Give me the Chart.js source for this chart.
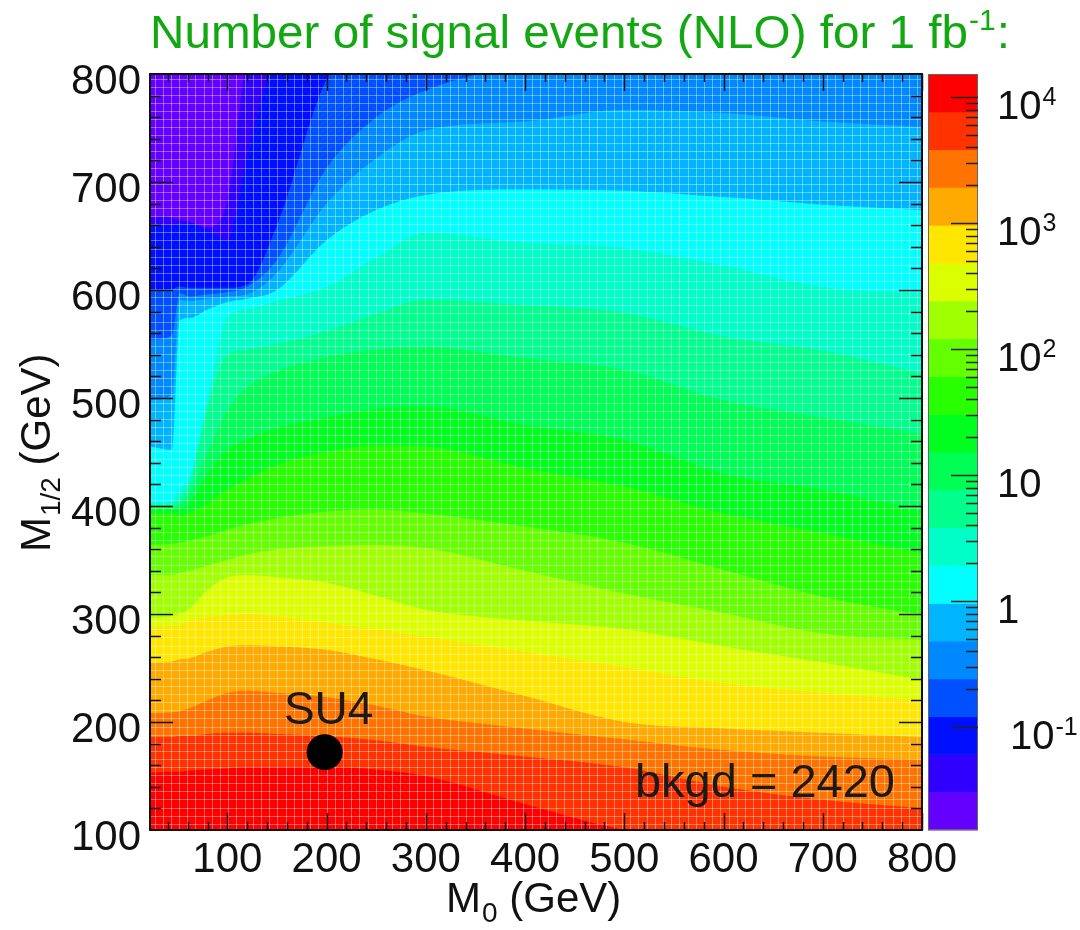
<!DOCTYPE html>
<html>
<head>
<meta charset="utf-8">
<script src="https://cdn.jsdelivr.net/npm/chart.js"></script>
<style>
  body { margin: 0; background: #fff; }
  canvas { display: block; }
</style>
</head>
<body>
<canvas id="myChart" width="1080" height="930"></canvas>
<script>
// M0 columns (GeV) where contour heights were read
const m0Nodes = [22, 44, 52, 62, 80, 100, 120, 150, 200, 250, 300, 400, 500, 600, 700, 800];

// contour levels, log10(number of events), bottom of colour bar to top
const zLevels = [-1.815, -1.515, -1.215, -0.915, -0.615, -0.315, -0.015, 0.285, 0.585, 0.885,
  1.185, 1.485, 1.785, 2.085, 2.385, 2.685, 2.985, 3.285, 3.585, 3.885, 4.185];

const bandColors = ['#6400ff', '#3000ff', '#0010ff', '#0050ff', '#0088ff', '#00b4ff', '#00ffff',
  '#00ffc8', '#00ff8c', '#00ff55', '#00ff1e', '#28ff00', '#64ff00', '#a0ff00', '#dcff00',
  '#ffe600', '#ffaa00', '#ff7300', '#ff3200', '#ff0000'];

// M1/2 (GeV) of each contour line at the m0Nodes, highest level first
const c3885 = [153, 154, 154, 155, 156, 157, 158, 158, 158, 156, 150, 124, 100, 88, 84, 80];
const c3585 = [186, 186, 187, 187, 189, 190, 190, 189, 187, 183, 177, 168, 158, 140, 128, 120];
const c3285 = [208, 209, 210, 213, 220, 227, 229, 227, 223, 215, 205, 194, 184, 174, 168, 165];
const c2985 = [255, 256, 258, 259, 265, 270, 271, 270, 267, 258, 248, 224, 200, 194, 190, 186];
const c2685 = [288, 289, 290, 294, 297, 299, 300, 298, 292, 286, 279, 265, 251, 236, 227, 220];
const c2385 = [296, 298, 300, 305, 322, 334, 336, 334, 329, 317, 304, 294, 286, 270, 255, 239];
const c2085 = [336, 336, 338, 340, 345, 350, 355, 360, 363, 364, 361, 340, 319, 301, 282, 276];
const c1785 = [364, 365, 366, 368, 372, 378, 383, 389, 395, 397, 393, 381, 366, 341, 316, 299];
const c1485 = [393, 393, 391, 394, 402, 415, 425, 438, 450, 456, 455, 435, 418, 393, 375, 356];
const c1185 = [397, 397, 397, 403, 430, 452, 462, 472, 482, 490, 492, 475, 461, 430, 415, 396];
const c0885 = [399, 399, 401, 412, 450, 489, 510, 525, 538, 545, 547, 537, 526, 498, 482, 467];
const c0585 = [401, 401, 406, 422, 490, 540, 545, 550, 562, 578, 591, 586, 579, 557, 544, 523];
const c0285 = [403, 404, 416, 426, 500, 575, 582, 590, 603, 630, 653, 644, 639, 623, 603, 597];
const cm0015 = [455, 452, 572, 574, 582, 589, 592, 600, 646, 674, 688, 693, 692, 686, 679, 674];
const cm0315 = [498, 503, 591, 590, 592, 594, 596, 616, 680, 722, 748, 756, 767, 764, 756, 751];
const cm0615 = [554, 558, 597, 594, 596, 598, 603, 628, 713, 760, 785, 808, 815, 820, 825, 830];
const cm0915 = [600, 601, 603, 602, 602, 602, 605, 660, 795, 840, 860, 870, 880, 890, 900, 910];
const cm1215 = [660, 660, 661, 662, 655, 646, 725, 820, 860, 880, 890, 900, 905, 910, 915, 920];
const cm1515 = [668, 667, 665, 663, 658, 683, 815, 850, 870, 890, 900, 910, 915, 920, 925, 930];

const contours = [c3885, c3585, c3285, c2985, c2685, c2385, c2085, c1785, c1485, c1185,
  c0885, c0585, c0285, cm0015, cm0315, cm0615, cm0915, cm1215, cm1515];

const xTicks = [100, 200, 300, 400, 500, 600, 700, 800];
const yTicks = [100, 200, 300, 400, 500, 600, 700, 800];
const zTicks = [0.1, 1, 10, 100, 1000, 10000];
const zTickLabels = [['10', '-1'], ['1', ''], ['10', ''], ['10', '2'], ['10', '3'], ['10', '4']];

const su4 = { m0: 198, m12: 172, name: 'SU4' };
const bkgdText = 'bkgd = 2420';
const titleMain = 'Number of signal events (NLO) for 1 fb';
const titleSup = '-1';

const FONT = '"Liberation Sans", Arial, sans-serif';

const datasets = contours.map((line, i) => ({
  data: m0Nodes.map((m, k) => ({ x: m, y: line[k] })),
  fill: 'start',
  backgroundColor: bandColors[19 - i],
  borderWidth: 0,
  borderColor: 'rgba(0,0,0,0)',
  pointRadius: 0,
  cubicInterpolationMode: 'monotone',
  order: 0
}));

datasets.push({
  data: [{ x: su4.m0, y: su4.m12 }],
  showLine: false,
  pointRadius: 18,
  pointBackgroundColor: '#000',
  pointBorderWidth: 0,
  order: -1
});

function drawSup(ctx, x, y, base, sup, size) {
  ctx.font = size + 'px ' + FONT;
  ctx.fillText(base, x, y);
  const w = ctx.measureText(base).width;
  if (sup) {
    ctx.font = Math.round(size * 0.62) + 'px ' + FONT;
    ctx.fillText(sup, x + w + 1, y - size * 0.37);
  }
}

const decor = {
  id: 'decor',
  beforeDatasetsDraw(chart) {
    const a = chart.chartArea, ctx = chart.ctx;
    ctx.save();
    ctx.fillStyle = bandColors[0];
    ctx.fillRect(a.left, a.top, a.right - a.left, a.bottom - a.top);
    ctx.restore();
  },
  afterDatasetDraw(chart, args) {
    if (args.index !== 0) return;
    // faint white mesh of the original histogram
    const a = chart.chartArea, ctx = chart.ctx;
    ctx.save();
    ctx.strokeStyle = 'rgba(255,255,255,0.36)';
    ctx.lineWidth = 1;
    ctx.beginPath();
    for (let x = a.left + 4.5; x < a.right; x += 8.2) {
      ctx.moveTo(Math.round(x) + 0.5, a.top);
      ctx.lineTo(Math.round(x) + 0.5, a.bottom);
    }
    for (let y = a.top + 4.5; y < a.bottom; y += 8.1) {
      ctx.moveTo(a.left, Math.round(y) + 0.5);
      ctx.lineTo(a.right, Math.round(y) + 0.5);
    }
    ctx.stroke();
    ctx.restore();
  },
  afterDraw(chart) {
    const a = chart.chartArea, ctx = chart.ctx;
    const xs = chart.scales.x, ys = chart.scales.y, zs = chart.scales.z;
    ctx.save();

    // frame + ticks
    ctx.strokeStyle = '#111';
    ctx.lineWidth = 2;
    ctx.strokeRect(a.left, a.top, a.right - a.left, a.bottom - a.top);
    ctx.lineWidth = 1.5;
    ctx.beginPath();
    for (let v = 40; v <= 800; v += 20) {
      const px = Math.round(xs.getPixelForValue(v)) + 0.5;
      const len = v % 100 === 0 ? 17 : 8;
      ctx.moveTo(px, a.bottom); ctx.lineTo(px, a.bottom - len);
      ctx.moveTo(px, a.top); ctx.lineTo(px, a.top + len);
    }
    for (let v = 120; v <= 780; v += 20) {
      const py = Math.round(ys.getPixelForValue(v)) + 0.5;
      const len = v % 100 === 0 ? 23 : 11;
      ctx.moveTo(a.left, py); ctx.lineTo(a.left + len, py);
      ctx.moveTo(a.right, py); ctx.lineTo(a.right - len, py);
    }
    ctx.stroke();

    // tick labels
    ctx.fillStyle = '#111';
    ctx.font = '42px ' + FONT;
    ctx.textAlign = 'center';
    ctx.textBaseline = 'alphabetic';
    xTicks.forEach(v => ctx.fillText(String(v), xs.getPixelForValue(v), a.bottom + 42));
    ctx.textAlign = 'right';
    yTicks.forEach(v => ctx.fillText(String(v), a.left - 9, ys.getPixelForValue(v) + 20));

    // axis titles
    ctx.textAlign = 'left';
    let tx = 446;
    ctx.font = '42px ' + FONT;
    ctx.fillText('M', tx, 912);
    tx += ctx.measureText('M').width;
    ctx.font = '28px ' + FONT;
    ctx.fillText('0', tx + 1, 922);
    tx += ctx.measureText('0').width + 1;
    ctx.font = '42px ' + FONT;
    ctx.fillText(' (GeV)', tx, 912);

    ctx.save();
    ctx.translate(50, 552);
    ctx.rotate(-Math.PI / 2);
    let ty = 0;
    ctx.font = '42px ' + FONT;
    ctx.fillText('M', ty, 0);
    ty += ctx.measureText('M').width;
    ctx.font = '28px ' + FONT;
    ctx.fillText('1/2', ty + 1, 10);
    ty += ctx.measureText('1/2').width + 1;
    ctx.font = '42px ' + FONT;
    ctx.fillText(' (GeV)', ty, 0);
    ctx.restore();

    // title
    ctx.fillStyle = '#12a812';
    ctx.font = '46px ' + FONT;
    const wMain = ctx.measureText(titleMain).width;
    ctx.font = '29px ' + FONT;
    const wSup = ctx.measureText(titleSup).width;
    ctx.font = '46px ' + FONT;
    const wCol = ctx.measureText(':').width;
    const sx = 860 / (wMain + wSup + wCol + 2);
    ctx.save();
    ctx.translate(150, 48);
    ctx.scale(sx, 1);
    ctx.fillText(titleMain, 0, 0);
    ctx.font = '29px ' + FONT;
    ctx.fillText(titleSup, wMain + 1, -18);
    ctx.font = '46px ' + FONT;
    ctx.fillText(':', wMain + wSup + 2, 0);
    ctx.restore();

    // colour bar
    const bl = a.right + 6, br = a.right + 56;
    for (let i = 0; i < bandColors.length; i++) {
      const y0 = zs.getPixelForValue(Math.pow(10, zLevels[i]));
      const y1 = zs.getPixelForValue(Math.pow(10, zLevels[i + 1]));
      ctx.fillStyle = bandColors[i];
      ctx.fillRect(bl, y1, br - bl, y0 - y1 + 0.5);
    }
    ctx.strokeStyle = '#666';
    ctx.lineWidth = 1;
    ctx.strokeRect(bl + 0.5, a.top + 0.5, br - bl - 1, a.bottom - a.top - 1);
    ctx.strokeStyle = '#222';
    ctx.lineWidth = 1.5;
    ctx.beginPath();
    zTicks.forEach(d => {
      for (let m = 1; m <= 9; m++) {
        const v = d * m;
        if (v < zs.min || v > zs.max) continue;
        const py = Math.round(zs.getPixelForValue(v)) + 0.5;
        ctx.moveTo(br, py);
        ctx.lineTo(br - (m === 1 ? 27 : 12), py);
      }
    });
    ctx.stroke();
    ctx.fillStyle = '#111';
    ctx.textAlign = 'left';
    zTicks.forEach((v, i) => {
      const py = zs.getPixelForValue(v);
      const lx = zTickLabels[i][1] === '-1' ? br + 32 : br + 19;
      drawSup(ctx, lx, py + 22, zTickLabels[i][0], zTickLabels[i][1], 40);
    });

    // SU4 and background labels
    const meta = chart.getDatasetMeta(contours.length);
    const pt = meta.data[0];
    ctx.fillStyle = '#1a1a1a';
    ctx.font = '46px ' + FONT;
    ctx.textAlign = 'center';
    ctx.fillText(su4.name, pt.x + 4, pt.y - 28);
    ctx.font = '47px ' + FONT;
    ctx.textAlign = 'right';
    ctx.fillText(bkgdText, a.right - 27, a.bottom - 33);

    ctx.restore();
  }
};

new Chart(document.querySelector('#myChart'), {
  type: 'line',
  data: { datasets: datasets },
  options: {
    responsive: false,
    animation: false,
    layout: { padding: { left: 150, top: 74, right: 158, bottom: 100 } },
    plugins: {
      legend: { display: false },
      tooltip: { enabled: false },
      title: { display: false }
    },
    scales: {
      x: { type: 'linear', min: 22, max: 800, display: false },
      y: { type: 'linear', min: 100, max: 800, display: false },
      z: {
        type: 'logarithmic',
        position: 'right',
        min: Math.pow(10, zLevels[0]),
        max: Math.pow(10, zLevels[zLevels.length - 1]),
        display: false
      }
    }
  },
  plugins: [decor]
});
</script>
</body>
</html>
